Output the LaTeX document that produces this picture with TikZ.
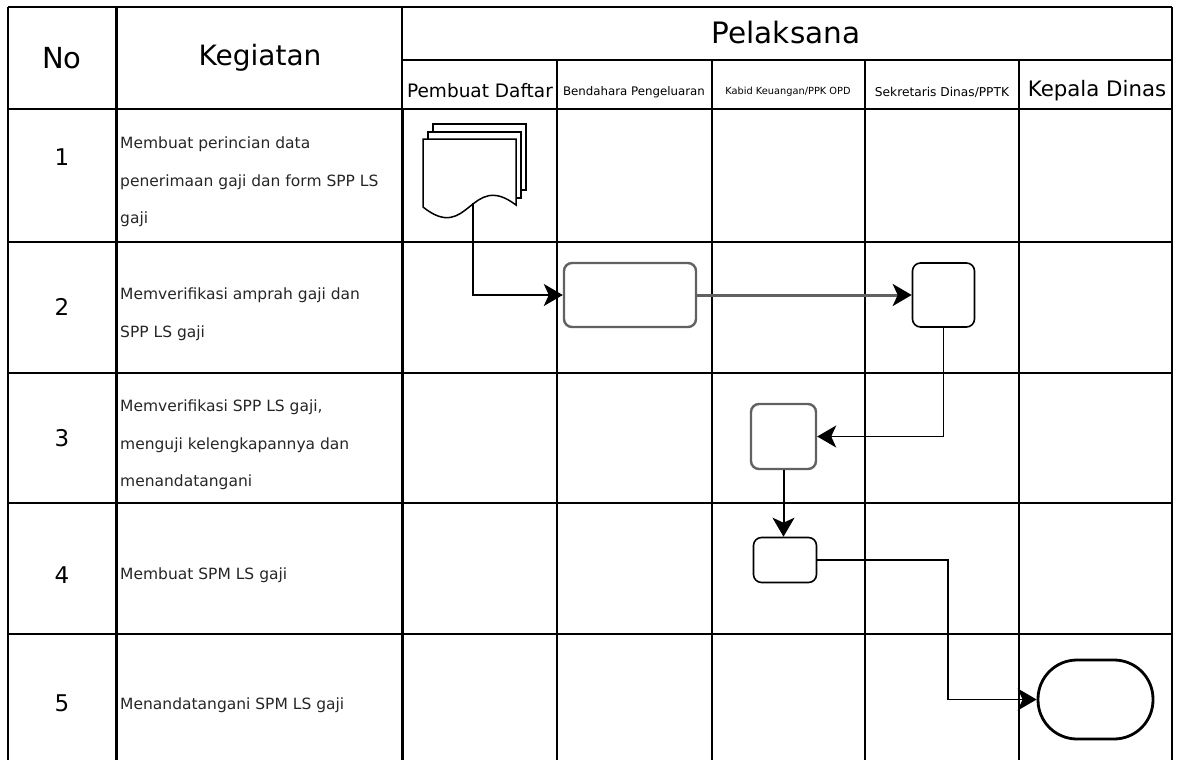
\documentclass[tikz,border=0pt]{standalone}
\usepackage{fontspec}
\setmainfont{DejaVu Sans}
\usetikzlibrary{arrows.meta}
\begin{document}
\begin{tikzpicture}[x=1pt,y=-1pt,
  gridline/.style={line width=1.5pt},
  boldline/.style={line width=3pt},
  hdr/.style={font=\fontsize{28}{30}\selectfont, inner sep=0},
  sub/.style={inner sep=0},
  num/.style={font=\fontsize{23}{26}\selectfont, inner sep=0},
  task/.style={anchor=west, align=left, inner sep=0, text=black!85, font=\fontsize{15.5}{37.5}\selectfont},
  flowbox/.style={draw, rounded corners=8pt, line width=1.6pt, inner sep=0, fill=white},
  graybox/.style={flowbox, draw=black!62, line width=2.4pt},
  tip/.style={-{Stealth[length=19pt,width=22pt,inset=5pt,color=black]}},
  conn/.style={line width=1.6pt, tip},
  grayconn/.style={line width=3pt, draw=black!62, tip}
]
\useasboundingbox (0,0) rectangle (1178,760);

% ---- table grid ----
\draw[gridline, line width=2pt] (8,7) -- (1172,7);
\draw[gridline] (8,7) -- (8,760);
\draw[gridline] (1172,7) -- (1172,760);
\draw[boldline] (116,7) -- (116,760);
\draw[gridline, line width=2pt] (402,7) -- (402,109);
\draw[boldline] (402,109) -- (402,760);
\draw[gridline] (402,60) -- (1172,60);
\foreach \xx in {557,712,865,1019} \draw[gridline] (\xx,60) -- (\xx,760);
\draw[gridline, line width=2.2pt] (8,109) -- (1172,109);
\foreach \yy in {242,373,503,634} \draw[gridline] (8,\yy) -- (1172,\yy);

% ---- header texts ----
\node[hdr, font=\fontsize{29}{30}\selectfont] (hno) at (62,58) {No};
\node[hdr] (hkeg) at (260,58) {Kegiatan};
\node[hdr, font=\fontsize{29.5}{31}\selectfont] (hpel) at (786,33) {Pelaksana};
\node[sub, font=\fontsize{18.5}{20}\selectfont] (c1) at (480,91) {Pembuat Daftar};
\node[sub, font=\fontsize{11.8}{13}\selectfont] (c2) at (634,92) {Bendahara Pengeluaran};
\node[sub, font=\fontsize{9.8}{11}\selectfont] (c3) at (788,92) {Kabid Keuangan/PPK OPD};
\node[sub, font=\fontsize{12.2}{13}\selectfont] (c4) at (942,92) {Sekretaris Dinas/PPTK};
\node[sub, font=\fontsize{21.3}{23}\selectfont] (c5) at (1097,91) {Kepala Dinas};

% ---- row numbers ----
\node[num] (n1) at (62,157) {1};
\node[num] (n2) at (62,307) {2};
\node[num] (n3) at (62,438) {3};
\node[num] (n4) at (62,575) {4};
\node[num] (n5) at (62,703) {5};

% ---- activities ----
\node[task] (t1) at (120,182) {Membuat perincian data\\penerimaan gaji dan form SPP LS\\gaji};
\node[task] (t2) at (120,314) {Memverifikasi amprah gaji dan\\SPP LS gaji};
\node[task] (t3) at (120,445) {Memverifikasi SPP LS gaji,\\menguji kelengkapannya dan\\menandatangani};
\node[task] (t4) at (120,575) {Membuat SPM LS gaji};
\node[task] (t5) at (120,705) {Menandatangani SPM LS gaji};

% ---- multi-document shape ----
\draw[line width=1.5pt] (433,132) -- (433,124) -- (526,124) -- (526,190) -- (521,190);
\draw[line width=1.5pt] (428,139) -- (428,132) -- (521,132) -- (521,198) -- (516,198);
\draw[line width=1.5pt, fill=white] (423,139) -- (516,139) -- (516,205)
   .. controls (470,170) and (469,244) .. (423,207) -- cycle;
\node[inner sep=0, minimum width=103pt, minimum height=94pt] (doc) at (474,171) {};
\coordinate (docout) at (473,203);

% ---- process shapes ----
\node[graybox, minimum width=132pt, minimum height=64pt] (b2) at (630,295) {};
\node[flowbox, minimum width=62pt, minimum height=64pt] (b3) at (943.5,295) {};
\node[graybox, minimum width=65pt, minimum height=65pt] (b4) at (783.5,436.5) {};
\node[flowbox, minimum width=63pt, minimum height=45pt] (b5) at (785,560) {};
\node[draw, line width=2.8pt, rounded corners=39pt, inner sep=0, fill=white,
      minimum width=115pt, minimum height=79pt] (term) at (1095.5,699.5) {};

% ---- connectors ----
\coordinate (bend) at (948,560);
\draw[conn] (docout) |- (b2.west);
\draw[grayconn] (b2.east) -- (b3.west);
\draw[conn] (b3.south) |- (b4.east);
\draw[conn, line width=2pt] (b4.south) -- (b4.south |- b5.north);
\draw[conn] (b5.east) -- (b5.east -| bend) |- (term.west);
\end{tikzpicture}
\end{document}
